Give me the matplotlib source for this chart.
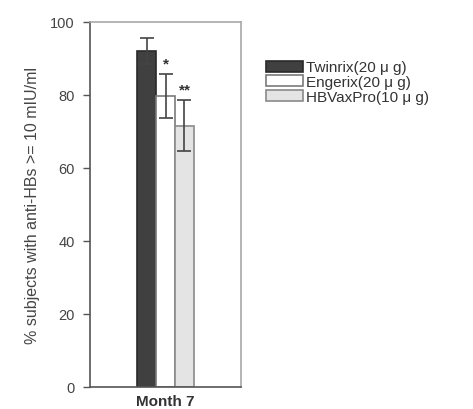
import matplotlib
matplotlib.use("Agg")
import matplotlib.pyplot as plt
import numpy as np

plt.rcParams["font.family"] = ["Liberation Sans", "DejaVu Sans"]

categories = ["Month 7"]
series = ["Twinrix(20 \u03bc g)", "Engerix(20 \u03bc g)", "HBVaxPro(10 \u03bc g)"]
values = [92.0, 79.7, 71.5]
errors = [3.6, 6.0, 7.0]
signif = ["", "*", "**"]
yticks = [0, 20, 40, 60, 80, 100]

colors = ["#404040", "#ffffff", "#e4e4e4"]
edges = ["#2a2a2a", "#7a7a7a", "#8a8a8a"]

fig = plt.figure(figsize=(4.73, 4.10), dpi=100)
ax = fig.add_axes([0.190, 0.054, 0.320, 0.890])

width = 0.125
offsets = [-width, 0, width]
handles = []
for i, (s, v, e) in enumerate(zip(series, values, errors)):
    x = 0 + offsets[i]
    b = ax.bar(x, v, width=width, color=colors[i], edgecolor=edges[i],
               linewidth=1.2, label=s, zorder=2)
    ax.errorbar(x, v, yerr=e, fmt="none", ecolor="#444444", elinewidth=1.2,
                capsize=5, capthick=1.2, zorder=3)
    if signif[i]:
        ax.text(x, v + e + 1.0, signif[i], ha="center", va="bottom",
                fontsize=11, color="#333333", fontweight="bold")
    handles.append(b)

ax.set_xlim(-0.5, 0.5)
ax.set_ylim(0, 100)
ax.set_yticks(yticks)
ax.set_yticklabels([str(t) for t in yticks], fontsize=10.5, color="#444444")
ax.set_xticks([0])
ax.set_xticklabels(categories, fontsize=11, fontweight="bold", color="#333333")
ax.tick_params(axis="x", length=0, pad=5)
ax.tick_params(axis="y", length=5, width=1, color="#555555", pad=6, direction="out")
for side in ["left", "bottom"]:
    ax.spines[side].set_color("#555555")
    ax.spines[side].set_linewidth(1.2)
for side in ["right", "top"]:
    ax.spines[side].set_color("#a8a8a8")
    ax.spines[side].set_linewidth(1.2)

ax.set_ylabel("% subjects with anti-HBs >= 10 mIU/ml", fontsize=11.5,
              color="#444444", labelpad=7)

fig.legend(handles=handles, labels=series, loc="upper left",
           bbox_to_anchor=(0.55, 0.865), frameon=False, fontsize=11,
           handlelength=2.4, handleheight=0.75, handletextpad=0.2,
           labelspacing=0.05, borderaxespad=0, labelcolor="#333333")

fig.savefig("out.png", dpi=100)
